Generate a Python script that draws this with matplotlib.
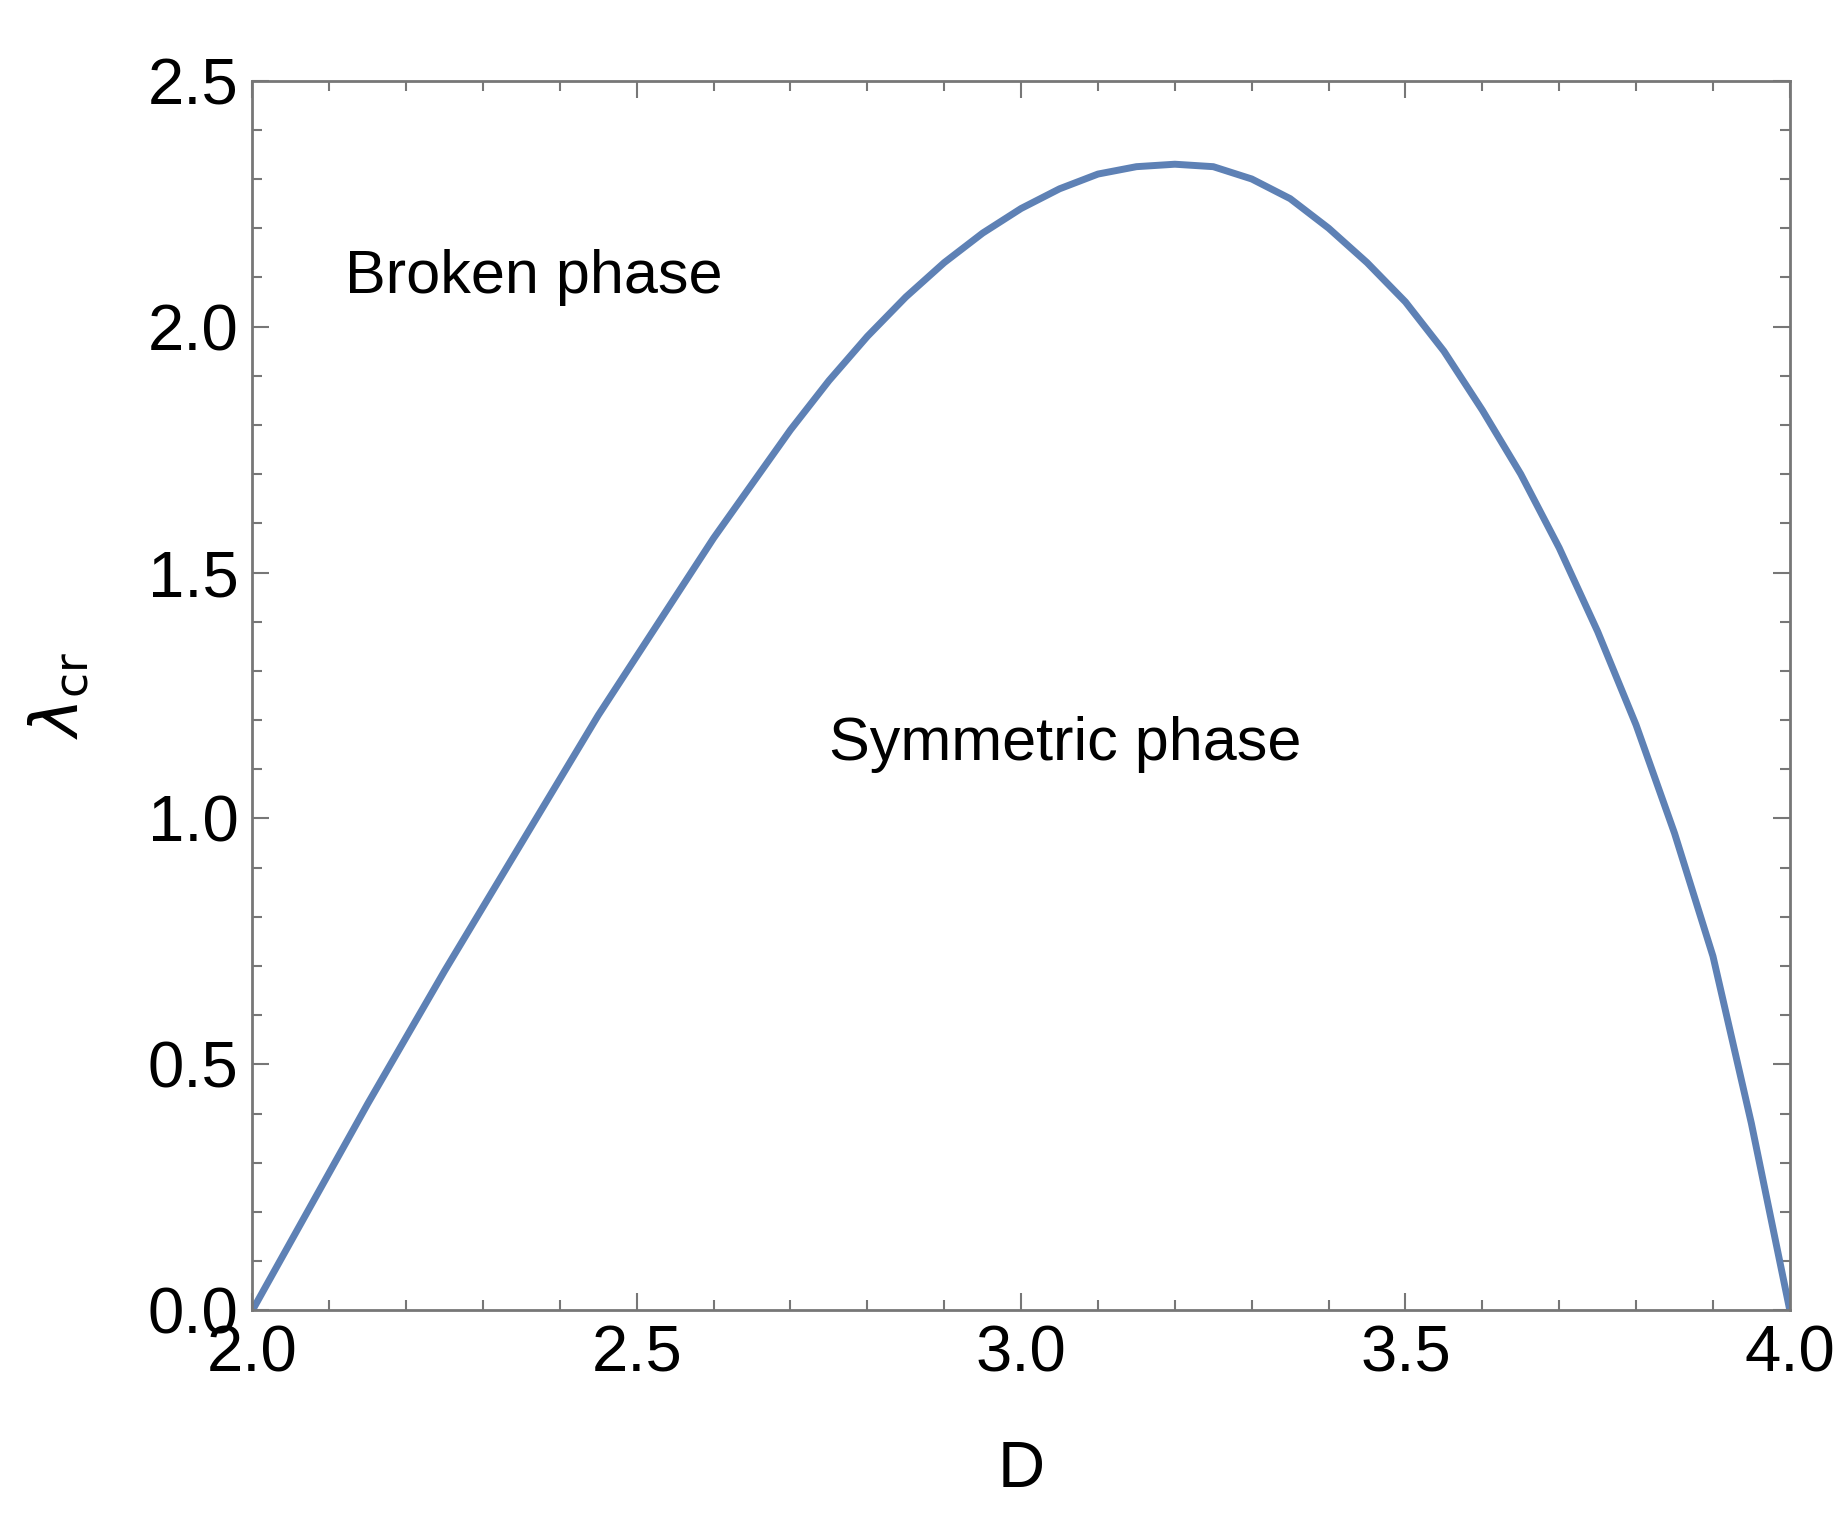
import matplotlib
matplotlib.use("Agg")
import matplotlib.pyplot as plt
from matplotlib.ticker import MultipleLocator

D = [2.0, 2.05, 2.1, 2.15, 2.2, 2.25, 2.3, 2.35, 2.4, 2.45, 2.5, 2.55, 2.6, 2.65, 2.7, 2.75,
     2.8, 2.85, 2.9, 2.95, 3.0, 3.05, 3.1, 3.15, 3.2, 3.25, 3.3, 3.35, 3.4, 3.45, 3.5, 3.55,
     3.6, 3.65, 3.7, 3.75, 3.8, 3.85, 3.9, 3.95, 4.0]
lam = [0.0, 0.14, 0.28, 0.42, 0.555, 0.69, 0.82, 0.95, 1.08, 1.21, 1.33, 1.45, 1.57, 1.68, 1.79, 1.89,
       1.98, 2.06, 2.13, 2.19, 2.24, 2.28, 2.31, 2.325, 2.33, 2.325, 2.30, 2.26, 2.20, 2.13, 2.05, 1.95,
       1.83, 1.70, 1.55, 1.38, 1.19, 0.97, 0.72, 0.38, 0.0]

plt.rcParams['font.family'] = ['Liberation Sans', 'DejaVu Sans']
fig = plt.figure(figsize=(18.49, 15.38), dpi=100)
ax = fig.add_axes([0.1365, 0.148, 0.968 - 0.1365, 0.9476 - 0.148])
ax.plot(D, lam, color='#5E81B5', lw=5, solid_joinstyle='round')
ax.set_xlim(2, 4)
ax.set_ylim(0, 2.5)
ax.xaxis.set_major_locator(MultipleLocator(0.5))
ax.xaxis.set_minor_locator(MultipleLocator(0.1))
ax.yaxis.set_major_locator(MultipleLocator(0.5))
ax.yaxis.set_minor_locator(MultipleLocator(0.1))
ax.tick_params(which='both', direction='in', top=True, right=True, color='#777777', width=1.5)
ax.tick_params(which='major', length=12, labelsize=47, pad=10)
ax.tick_params(which='minor', length=7)
for s in ax.spines.values():
    s.set_color('#777777'); s.set_linewidth(2)
ax.set_xlabel('D', fontsize=47, labelpad=40)
ax.set_ylabel(r'$\lambda_{\mathrm{cr}}$', fontsize=47, labelpad=40)
ax.text(2.12, 2.1, 'Broken phase', fontsize=44, va='center', ha='left')
ax.text(2.75, 1.15, 'Symmetric phase', fontsize=44, va='center', ha='left')
fig.savefig('out.png', dpi=100)
